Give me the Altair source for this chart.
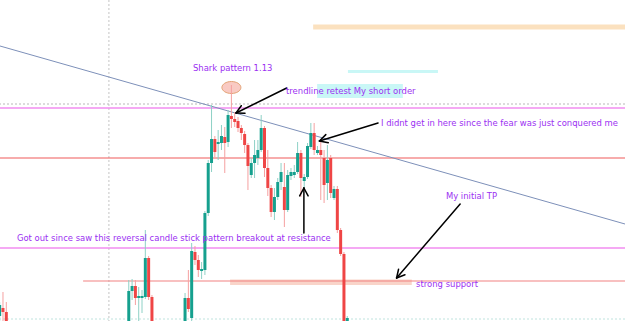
import math
import altair as alt
import pandas as pd

# ---------------- candle data ----------------
bar_t = [0, 1, 2,
         39, 40, 41, 42, 43, 44, 45, 46,
         56, 57, 58, 59, 60, 61, 62, 63, 64, 65,
         66, 67, 68, 69, 70, 71, 72, 73, 74, 75,
         76, 77, 78, 79, 80, 81, 82, 83, 84, 85,
         86, 87, 88, 89, 90, 91, 92, 93, 94, 95,
         96, 97, 98, 99, 100, 101, 102, 103, 104, 105]
opens = [1.1092, 1.1100, 1.1096,
         1.1083, 1.1117, 1.1122, 1.1110, 1.1110, 1.1111, 1.1150, 1.1111,
         1.1082, 1.1110, 1.1090, 1.1156, 1.1148, 1.1137, 1.1138, 1.1195, 1.1245, 1.1269,
         1.1264, 1.1265, 1.1271, 1.1266, 1.1292, 1.1289, 1.1287, 1.1280, 1.1274, 1.1263,
         1.1233, 1.1245, 1.1250, 1.1258, 1.1280, 1.1240, 1.1220, 1.1196, 1.1211, 1.1226,
         1.1221, 1.1198, 1.1232, 1.1233, 1.1236, 1.1255, 1.1227, 1.1231, 1.1261, 1.1275,
         1.1255, 1.1258, 1.1250, 1.1225, 1.1250, 1.1210, 1.1219, 1.1178, 1.1154, 1.1087]
closes = [1.1103, 1.1096, 1.1083,
          1.1117, 1.1122, 1.1110, 1.1112, 1.1112, 1.1150, 1.1111, 1.1078,
          1.1110, 1.1099, 1.1157, 1.1148, 1.1138, 1.1139, 1.1195, 1.1245, 1.1269, 1.1256,
          1.1266, 1.1272, 1.1265, 1.1293, 1.1289, 1.1286, 1.1280, 1.1275, 1.1263, 1.1242,
          1.1245, 1.1253, 1.1258, 1.1280, 1.1240, 1.1220, 1.1196, 1.1211, 1.1226, 1.1236,
          1.1198, 1.1233, 1.1236, 1.1236, 1.1255, 1.1230, 1.1231, 1.1262, 1.1275, 1.1258,
          1.1258, 1.1253, 1.1223, 1.1248, 1.1215, 1.1219, 1.1178, 1.1154, 1.1078, 1.1090]
highs = [1.1106, 1.1116, 1.1106,
         1.1128, 1.1129, 1.1128, 1.1121, 1.1118, 1.1178, 1.1152, 1.1113,
         1.1115, 1.1138, 1.1165, 1.1162, 1.1153, 1.1146, 1.1197, 1.1248, 1.1303, 1.1272,
         1.1278, 1.1283, 1.1281, 1.1298, 1.1323, 1.1296, 1.1291, 1.1283, 1.1277, 1.1265,
         1.1250, 1.1268, 1.1268, 1.1293, 1.1282, 1.1258, 1.1223, 1.1220, 1.1230, 1.1245,
         1.1245, 1.1238, 1.1240, 1.1243, 1.1266, 1.1258, 1.1234, 1.1265, 1.1285, 1.1285,
         1.1262, 1.1268, 1.1258, 1.1263, 1.1253, 1.1222, 1.1222, 1.1180, 1.1156, 1.1092]
lows = [1.1086, 1.1087, 1.1078,
        1.1078, 1.1108, 1.1103, 1.1087, 1.1095, 1.1109, 1.1108, 1.1073,
        1.1078, 1.1096, 1.1086, 1.1143, 1.1131, 1.1129, 1.1133, 1.1192, 1.1236, 1.1251,
        1.1248, 1.1258, 1.1235, 1.1261, 1.1280, 1.1281, 1.1276, 1.1268, 1.1255, 1.1218,
        1.1230, 1.1230, 1.1243, 1.1256, 1.1231, 1.1212, 1.1191, 1.1188, 1.1208, 1.1218,
        1.1181, 1.1196, 1.1228, 1.1230, 1.1234, 1.1211, 1.1220, 1.1229, 1.1259, 1.1253,
        1.1253, 1.1208, 1.1205, 1.1208, 1.1210, 1.1208, 1.1175, 1.1152, 1.1073, 1.1083]

# ---------------- drawings ----------------
level_pink = [1.1300, 1.1160]
level_red = [1.1250]
level_red_partial = [1.1127]
level_red_partial_from = [25.2]
grid_dotted_price = [1.1304]
grid_dotted_time = [33.0]
bottom_dotted_price = [1.1089]

trend_t = [0.1, 188.9]
trend_p = [1.1362, 1.1184]

band_peach = {"t": [94.7], "t2": [188.9], "p": [1.13835], "p2": [1.13785]}
band_cyan = {"t": [105.2], "t2": [132.4], "p": [1.1338], "p2": [1.1335]}
band_label = {"t": [95.9], "t2": [121.8], "p": [1.1324], "p2": [1.1310]}
band_support = {"t": [69.6], "t2": [124.5], "p": [1.11285], "p2": [1.1123]}

ellipse_t = [70.0]
ellipse_p = [1.13205]

labels = ["Shark pattern 1.13",
          "trendline retest My short order",
          "I didnt get in here since the fear was just conquered me",
          "My initial TP",
          "strong support",
          "Got out since saw this reversal candle stick pattern breakout at resistance"]
label_t = [58.4, 86.5, 115.2, 134.8, 125.8, 5.2]
label_p = [1.1340, 1.1317, 1.1285, 1.1212, 1.1124, 1.1170]

arrow_tail_t = [86.7, 114.3, 91.9, 139.1]
arrow_tail_p = [1.1320, 1.1285, 1.1175, 1.1204]
arrow_tip_t = [71.4, 96.6, 91.9, 119.9]
arrow_tip_p = [1.1295, 1.1267, 1.1220, 1.1130]

# ---------------- scales ----------------
W, H = 625, 321
T_DOM = [0.1, 188.9]
P_DOM = [1.1087, 1.1408]
xs = alt.Scale(domain=T_DOM, nice=False, zero=False, padding=0)
ys = alt.Scale(domain=P_DOM, nice=False, zero=False, padding=0)
X = lambda f: alt.X(f, type="quantitative", scale=xs, axis=None)
Y = lambda f: alt.Y(f, type="quantitative", scale=ys, axis=None)

df = pd.DataFrame(dict(t=bar_t, open=opens, high=highs, low=lows, close=closes))
df["dir"] = ["up" if c >= o else "down" for o, c in zip(df.open, df.close)]
df["top"] = df[["open", "close"]].max(axis=1)
df["bot"] = df[["open", "close"]].min(axis=1)

is_up = alt.datum.dir == "up"
wicks = alt.Chart(df).mark_rule(strokeWidth=1, clip=True).encode(
    x=X("t"), y=Y("low"), y2="high",
    color=alt.condition(is_up, alt.value("#8ed1c6"), alt.value("#f5a0a0")))
bodies = alt.Chart(df).mark_bar(size=3, clip=True).encode(
    x=X("t"), y=Y("bot"), y2="top",
    color=alt.condition(is_up, alt.value("#15a08e"), alt.value("#ef4545")))


def rect(d, color, opacity=1.0):
    return alt.Chart(pd.DataFrame(d)).mark_rect(color=color, opacity=opacity).encode(
        x=X("t"), x2="t2", y=Y("p"), y2="p2")


peach = rect(band_peach, "#fbe1bf")
cyan = rect(band_cyan, "#c9f7f6")
label_bg = rect(band_label, "#c9f7f6")
support = rect(band_support, "#f7c9bc", 0.8)

vgrid = alt.Chart(pd.DataFrame({"t": grid_dotted_time})).mark_rule(
    color="#c4c4c4", strokeDash=[2, 2], strokeWidth=1).encode(x=X("t"))
hgrid = alt.Chart(pd.DataFrame({"p": grid_dotted_price})).mark_rule(
    color="#b8b8b8", strokeDash=[2, 2], strokeWidth=1).encode(y=Y("p"))
bgrid = alt.Chart(pd.DataFrame({"p": bottom_dotted_price})).mark_rule(
    color="#bfe3de", strokeDash=[2, 2], strokeWidth=1).encode(y=Y("p"))

pink = alt.Chart(pd.DataFrame({"p": level_pink})).mark_rule(
    color="#f28cf0", strokeWidth=1.5).encode(y=Y("p"))
red = alt.Chart(pd.DataFrame({"p": level_red})).mark_rule(
    color="#f05a5a", strokeWidth=1.2).encode(y=Y("p"))
red2 = alt.Chart(pd.DataFrame({"p": level_red_partial, "t": level_red_partial_from, "t2": [T_DOM[1]]})).mark_rule(
    color="#f28282", strokeWidth=1.2).encode(y=Y("p"), x=X("t"), x2="t2")

trend = alt.Chart(pd.DataFrame({"t": [trend_t[0]], "t2": [trend_t[1]], "p": [trend_p[0]], "p2": [trend_p[1]]})).mark_rule(
    color="#7d90b9", strokeWidth=1).encode(x=X("t"), x2="t2", y=Y("p"), y2="p2")

ellipse = alt.Chart(pd.DataFrame({"t": ellipse_t, "p": ellipse_p})).mark_point(
    shape="M -1 0 A 1 0.63 0 1 1 1 0 A 1 0.63 0 1 1 -1 0 Z",
    size=361, filled=True, fill="#f9cac3", stroke="#e3a274", strokeWidth=1, opacity=1).encode(
    x=X("t"), y=Y("p"))

# arrows (shaft + two wings of the open head)
sx = W / (T_DOM[1] - T_DOM[0])
sy = H / (P_DOM[1] - P_DOM[0])
segs = []
for t1, p1, t2, p2 in zip(arrow_tail_t, arrow_tail_p, arrow_tip_t, arrow_tip_p):
    segs.append((t1, p1, t2, p2))
    ang = math.atan2(-(p2 - p1) * sy, (t2 - t1) * sx)
    for da in (math.radians(28), -math.radians(28)):
        a = ang + math.pi + da
        segs.append((t2, p2, t2 + 9 * math.cos(a) / sx, p2 - 9 * math.sin(a) / sy))
arrows_df = pd.DataFrame(segs, columns=["t", "p", "t2", "p2"])
arrows = alt.Chart(arrows_df).mark_rule(color="#000000", strokeWidth=1.5, strokeCap="round").encode(
    x=X("t"), x2="t2", y=Y("p"), y2="p2")

texts = alt.Chart(pd.DataFrame({"label": labels, "t": label_t, "p": label_p})).mark_text(
    align="left", baseline="middle", font="DejaVu Sans", fontSize=8.45, color="#9b2ff2").encode(
    x=X("t"), y=Y("p"), text="label:N")

chart = alt.layer(
    vgrid, hgrid, bgrid, peach, cyan, label_bg, support,
    pink, red, red2, trend, ellipse, wicks, bodies, arrows, texts
).properties(width=W, height=H, background="#ffffff", padding=0,
             autosize=alt.AutoSizeParams(type="none")).configure_view(stroke=None)

chart.save("out.html", embed_options={"renderer": "svg", "actions": False})
